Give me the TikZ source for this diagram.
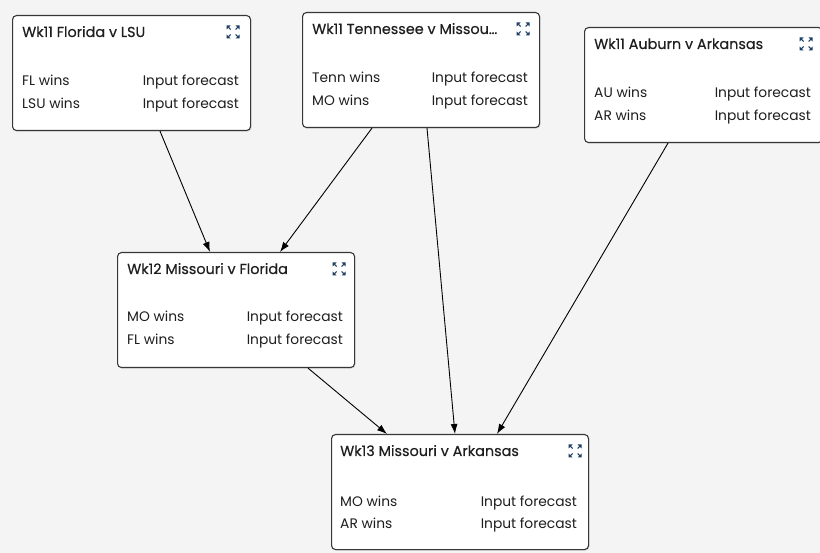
\documentclass[tikz,border=0pt]{standalone}
\usepackage{fontspec}
\setmainfont{Poppins}
\newfontfamily\ttlfont[FakeBold=0.35]{Poppins}
\usetikzlibrary{arrows.meta,shadows,calc}
\definecolor{bgc}{RGB}{244,244,244}
\definecolor{edgec}{RGB}{55,55,55}
\definecolor{iconc}{RGB}{28,62,102}
\definecolor{txtc}{RGB}{30,30,30}
\tikzset{
  card/.style={draw=edgec, line width=1.1pt, rounded corners=4pt, fill=white,
    anchor=north west, minimum height=115pt, inner sep=0pt,
    drop shadow={opacity=0.18, shadow xshift=1pt, shadow yshift=-1.2pt}},
  ttl/.style={anchor=base west, inner sep=0pt, font=\ttlfont\fontsize{14.4}{16}\selectfont, text=txtc},
  lbl/.style={anchor=base west, inner sep=0pt, font=\fontsize{13.8}{16}\selectfont, text=txtc},
  val/.style={anchor=base east, inner sep=0pt, font=\fontsize{13.8}{16}\selectfont, text=txtc},
  link/.style={draw=black, line width=0.9pt, -{Latex[length=10pt,width=7pt]}},
  ico/.style={iconc, line width=1pt}
}
\newcommand{\expandicon}[1]{%
  \begin{scope}[shift={(#1)}]
    \fill[iconc] (-6.5,-6.5) -- (-2.5,-6.5) -- (-6.5,-2.5) -- cycle;
    \fill[iconc] (6.5,-6.5) -- (2.5,-6.5) -- (6.5,-2.5) -- cycle;
    \fill[iconc] (-6.5,6.5) -- (-2.5,6.5) -- (-6.5,2.5) -- cycle;
    \fill[iconc] (6.5,6.5) -- (2.5,6.5) -- (6.5,2.5) -- cycle;
    \draw[ico] (-5,-5) -- (-2.5,-2.5);
    \draw[ico] (5,-5) -- (2.5,-2.5);
    \draw[ico] (-5,5) -- (-2.5,2.5);
    \draw[ico] (5,5) -- (2.5,2.5);
  \end{scope}}
\begin{document}
\begin{tikzpicture}[x=1pt,y=-1pt]
\fill[bgc] (0,0) rectangle (820,553);
\useasboundingbox (0,0) rectangle (820,553);

% boxes
\node[card, minimum width=238pt] (b1) at (12,15) {};
\node[card, minimum width=237pt] (b2) at (302,12) {};
\node[card, minimum width=238pt] (b3) at (584,27) {};
\node[card, minimum width=237pt] (b4) at (117,252) {};
\node[card, minimum width=257pt] (b5) at (331,434) {};

% box 1
\node[ttl] (b1t) at ([xshift=10pt,yshift=-22pt]b1.north west) {Wk11 Florida v LSU};
\node[lbl] (b1a) at ([xshift=10pt,yshift=-71pt]b1.north west) {FL wins};
\node[lbl] (b1b) at ([xshift=10pt,yshift=-94pt]b1.north west) {LSU wins};
\node[val] (b1c) at ([xshift=-12pt,yshift=-71pt]b1.north east) {Input forecast};
\node[val] (b1d) at ([xshift=-12pt,yshift=-94pt]b1.north east) {Input forecast};
\expandicon{$(b1.north east)+(-18,17)$}

% box 2
\node[ttl] (b2t) at ([xshift=10pt,yshift=-22pt]b2.north west) {Wk11 Tennessee v Missou…};
\node[lbl] (b2a) at ([xshift=10pt,yshift=-71pt]b2.north west) {Tenn wins};
\node[lbl] (b2b) at ([xshift=10pt,yshift=-94pt]b2.north west) {MO wins};
\node[val] (b2c) at ([xshift=-12pt,yshift=-71pt]b2.north east) {Input forecast};
\node[val] (b2d) at ([xshift=-12pt,yshift=-94pt]b2.north east) {Input forecast};
\expandicon{$(b2.north east)+(-17,17)$}

% box 3
\node[ttl] (b3t) at ([xshift=10pt,yshift=-22pt]b3.north west) {Wk11 Auburn v Arkansas};
\node[lbl] (b3a) at ([xshift=10pt,yshift=-71pt]b3.north west) {AU wins};
\node[lbl] (b3b) at ([xshift=10pt,yshift=-94pt]b3.north west) {AR wins};
\node[val] (b3c) at ([xshift=-12pt,yshift=-71pt]b3.north east) {Input forecast};
\node[val] (b3d) at ([xshift=-12pt,yshift=-94pt]b3.north east) {Input forecast};
\expandicon{$(b3.north east)+(-17,17)$}

% box 4
\node[ttl] (b4t) at ([xshift=10pt,yshift=-22pt]b4.north west) {Wk12 Missouri v Florida};
\node[lbl] (b4a) at ([xshift=10pt,yshift=-70pt]b4.north west) {MO wins};
\node[lbl] (b4b) at ([xshift=10pt,yshift=-93pt]b4.north west) {FL wins};
\node[val] (b4c) at ([xshift=-12pt,yshift=-70pt]b4.north east) {Input forecast};
\node[val] (b4d) at ([xshift=-12pt,yshift=-93pt]b4.north east) {Input forecast};
\expandicon{$(b4.north east)+(-16,17)$}

% box 5
\node[ttl] (b5t) at ([xshift=9pt,yshift=-22pt]b5.north west) {Wk13 Missouri v Arkansas};
\node[lbl] (b5a) at ([xshift=9pt,yshift=-72pt]b5.north west) {MO wins};
\node[lbl] (b5b) at ([xshift=9pt,yshift=-94pt]b5.north west) {AR wins};
\node[val] (b5c) at ([xshift=-12pt,yshift=-72pt]b5.north east) {Input forecast};
\node[val] (b5d) at ([xshift=-12pt,yshift=-94pt]b5.north east) {Input forecast};
\expandicon{$(b5.north east)+(-14,17)$}

% connectors
\draw[link] ([xshift=148pt]b1.south west) -- ([xshift=93pt]b4.north west);
\draw[link] ([xshift=70pt]b2.south west) -- ([xshift=163pt]b4.north west);
\draw[link] ([xshift=125pt]b2.south west) -- ([xshift=124pt]b5.north west);
\draw[link] ([xshift=84pt]b3.south west) -- ([xshift=166pt]b5.north west);
\draw[link] ([xshift=191pt]b4.south west) -- ([xshift=56pt]b5.north west);
\end{tikzpicture}
\end{document}
